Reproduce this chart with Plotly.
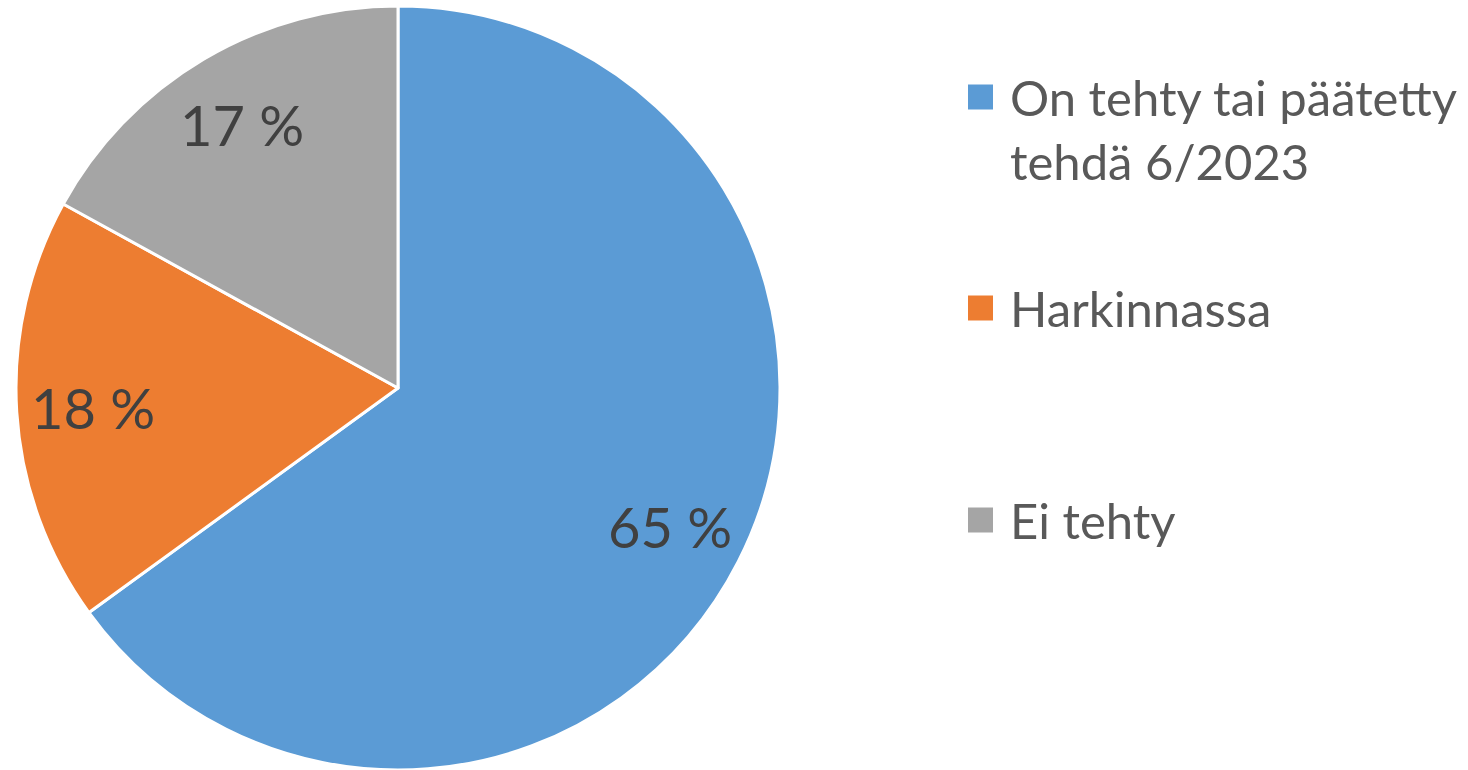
import math
import plotly.graph_objects as go

# ---- data ----
categories = ["On tehty tai päätetty<br>tehdä 6/2023", "Harkinnassa", "Ei tehty"]
shares = [65, 18, 17]

# ---- style / layout ----
slice_colors = ["#5B9BD5", "#ED7D31", "#A5A5A5"]
W, H = 1468, 770
FONT = "Lato, 'Open Sans', sans-serif"
PIE_CX, PIE_CY, PIE_R = 398, 388, 382   # pixel geometry of the pie
LABEL_FRAC = 0.80                       # label distance as fraction of radius

fig = go.Figure()
fig.add_trace(go.Pie(
    labels=categories,
    values=shares,
    sort=False,
    direction="clockwise",
    rotation=0,
    marker=dict(colors=slice_colors, line=dict(color="white", width=3)),
    textinfo="none",
    domain=dict(x=[(PIE_CX - PIE_R) / W, (PIE_CX + PIE_R) / W],
                y=[1 - (PIE_CY + PIE_R) / H, 1 - (PIE_CY - PIE_R) / H]),
    showlegend=False,
    hoverinfo="label+percent",
))

# data labels placed along each slice's mid-angle (as in the original chart)
total = sum(shares)
cum = 0
for v in shares:
    mid = (cum + v / 2) / total * 2 * math.pi      # clockwise from 12 o'clock
    cum += v
    px = PIE_CX + LABEL_FRAC * PIE_R * math.sin(mid)
    py = PIE_CY - LABEL_FRAC * PIE_R * math.cos(mid)
    fig.add_annotation(xref="paper", yref="paper", x=px / W, y=1 - py / H,
                       xanchor="center", yanchor="middle",
                       text=f"{v} %", showarrow=False,
                       font=dict(family=FONT, size=56, color="#404040"))

# legend (large squares + text)
legend_centers = [129, 308, 520]
square_centers = [97, 308, 520]
for lab, col, cy, sy in zip(categories, slice_colors, legend_centers, square_centers):
    fig.add_shape(type="rect", xref="paper", yref="paper",
                  x0=968 / W, x1=993 / W,
                  y0=1 - (sy + 12.5) / H, y1=1 - (sy - 12.5) / H,
                  fillcolor=col, line=dict(width=0))
    fig.add_annotation(xref="paper", yref="paper", x=1008 / W, y=1 - cy / H,
                       xanchor="left", yanchor="middle", align="left",
                       text=lab, showarrow=False,
                       font=dict(family=FONT, size=49, color="#595959"))

fig.update_layout(
    width=W, height=H,
    margin=dict(l=0, r=0, t=0, b=0),
    paper_bgcolor="white",
    plot_bgcolor="white",
)
fig.write_html("out.html",
               config={"displayModeBar": False},
               post_script="document.body.style.margin='0';document.body.style.overflow='hidden';")
